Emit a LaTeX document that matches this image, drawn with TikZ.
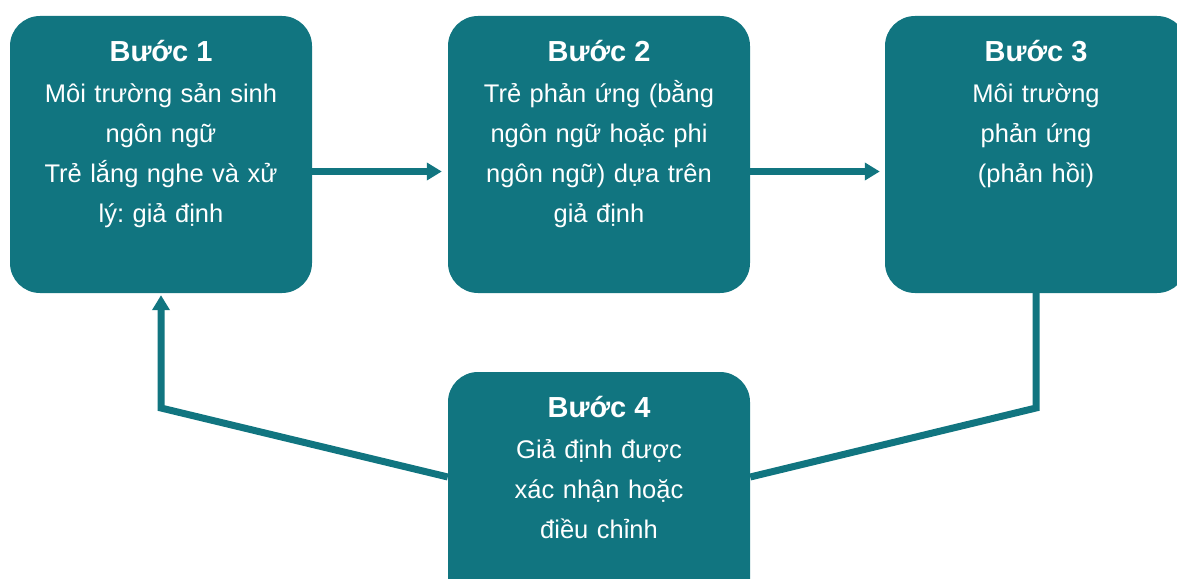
\documentclass[tikz,border=0pt]{standalone}
\usepackage{fontspec}
\setmainfont{Liberation Sans}
\usetikzlibrary{arrows.meta}
\definecolor{teal1}{RGB}{17,117,128}
\frenchspacing
\tikzset{
  stepbox/.style={fill=teal1, draw=none, rounded corners=30pt, minimum width=302pt, minimum height=277pt, inner sep=0pt},
  titletext/.style={text=white, anchor=base, font=\fontsize{29}{36}\selectfont\bfseries, inner sep=0pt},
  bodytext/.style={text=white, anchor=base, align=center, text width=300pt, font=\fontsize{25.5}{40}\selectfont\frenchspacing, inner sep=0pt},
  conn/.style={draw=teal1, line width=7pt},
  arr/.style={conn, -{Triangle[length=15pt,width=17pt]}},
}
\begin{document}
\begin{tikzpicture}[x=1pt,y=-1pt]
\useasboundingbox (0,0) rectangle (1177,578);
\clip (0,0) rectangle (1177,578);
\node[stepbox] (b1) at (161,154.5) {};
\node[stepbox] (b2) at (599,154.5) {};
\node[stepbox] (b3) at (1036,154.5) {};
\node[stepbox] (b4) at (599,510.5) {};
\node[titletext] (t1) at (161,61) {Bước 1};
\node[titletext] (t2) at (599,61) {Bước 2};
\node[titletext] (t3) at (1036,61) {Bước 3};
\node[titletext] (t4) at (599,417) {Bước 4};
\node[bodytext] (x1) at (161,102) {Môi trường sản sinh\\ngôn ngữ\\Trẻ lắng nghe và xử\\lý: giả định};
\node[bodytext] (x2) at (599,102) {Trẻ phản ứng (bằng\\ngôn ngữ hoặc phi\\ngôn ngữ) dựa trên\\giả định};
\node[bodytext] (x3) at (1036,102) {Môi trường\\phản ứng\\(phản hồi)};
\node[bodytext] (x4) at (599,458) {Giả định được\\xác nhận hoặc\\điều chỉnh};
\coordinate (c3) at (1036,408);
\coordinate (c1) at (161,408);
\draw[arr, shorten >=6pt] ([yshift=-17pt]b1.east) -- ([yshift=-17pt]b2.west);
\draw[arr, shorten >=5pt] ([yshift=-17pt]b2.east) -- ([yshift=-17pt]b3.west);
\draw[conn] (b3.south) -- (c3) -- ([yshift=33.5pt]b4.east);
\draw[arr, shorten >=2pt] ([yshift=33.5pt]b4.west) -- (c1) -- (b1.south);
\end{tikzpicture}
\end{document}
